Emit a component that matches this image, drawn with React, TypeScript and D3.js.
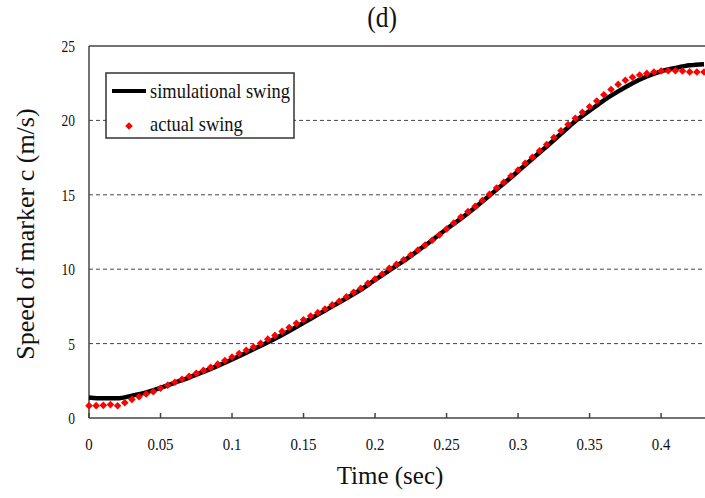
import React, { useEffect, useRef } from "react";
import * as d3 from "d3";

// sampling step of both series (sec)
const STEP_ACTUAL = 0.005;
const STEP_SIM = 0.01;

// actual swing, red markers, one value every 0.005 s from 0 to 0.43
const actualSpeed = [
  0.83, 0.83, 0.85, 0.9, 0.82, 1.03, 1.25, 1.43, 1.61, 1.77,
  2.0, 2.2, 2.4, 2.6, 2.8, 3.0, 3.2, 3.4, 3.62, 3.86,
  4.1, 4.33, 4.55, 4.77, 5.02, 5.3, 5.55, 5.82, 6.08, 6.36,
  6.6, 6.85, 7.08, 7.33, 7.6, 7.84, 8.15, 8.45, 8.71, 9.05,
  9.34, 9.68, 10.06, 10.33, 10.64, 10.95, 11.29, 11.62, 11.95, 12.3,
  12.7, 13.1, 13.5, 13.87, 14.22, 14.62, 15.03, 15.46, 15.84, 16.26,
  16.67, 17.12, 17.52, 17.95, 18.38, 18.85, 19.3, 19.72, 20.14, 20.54,
  20.92, 21.3, 21.72, 22.08, 22.42, 22.7, 22.9, 23.05, 23.16, 23.25,
  23.32, 23.34, 23.34, 23.32, 23.26, 23.25, 23.25,
];

// simulational swing, black line, one value every 0.01 s from 0 to 0.43
const simSpeed = [
  1.38, 1.32, 1.32, 1.5, 1.72, 2.02, 2.38, 2.72, 3.1, 3.5,
  3.93, 4.38, 4.85, 5.33, 5.85, 6.4, 6.95, 7.5, 8.05, 8.62,
  9.28, 9.92, 10.55, 11.25, 11.95, 12.7, 13.4, 14.15, 14.95, 15.75,
  16.58, 17.42, 18.25, 19.1, 19.95, 20.65, 21.35, 21.95, 22.5, 22.95,
  23.3, 23.52, 23.7, 23.78,
];

const xTicks = [0, 0.05, 0.1, 0.15, 0.2, 0.25, 0.3, 0.35, 0.4];
const yTicks = [0, 5, 10, 15, 20, 25];
const gridValues = [5, 10, 15, 20];

const App = () => {
  const svgRef = useRef<SVGSVGElement>(null);

  useEffect(() => {
    const W = 705;
    const H = 498;
    const left = 89;
    const top = 46;
    const bottom = 418;
    const right = 704;
    const font = "'Liberation Serif', 'Times New Roman', serif";

    const svg = d3.select(svgRef.current);
    svg.selectAll("*").remove();
    svg.attr("width", W).attr("height", H);

    svg.append("rect").attr("width", W).attr("height", H).attr("fill", "#fff");

    const x = d3.scaleLinear().domain([0, 0.43]).range([left, right]);
    const y = d3.scaleLinear().domain([0, 25]).range([bottom, top]);

    // dashed gridlines
    svg
      .selectAll(".grid")
      .data(gridValues)
      .enter()
      .append("line")
      .attr("x1", left)
      .attr("x2", W)
      .attr("y1", (d) => y(d))
      .attr("y2", (d) => y(d))
      .attr("stroke", "#444")
      .attr("stroke-width", 1)
      .attr("stroke-dasharray", "4,3");

    // frame: top, left, bottom
    const frame = svg.append("g").attr("stroke", "#444").attr("stroke-width", 1.5);
    frame.append("line").attr("x1", left).attr("x2", W).attr("y1", top).attr("y2", top);
    frame.append("line").attr("x1", left).attr("x2", left).attr("y1", top).attr("y2", bottom);
    frame.append("line").attr("x1", left).attr("x2", W).attr("y1", bottom).attr("y2", bottom);

    // x ticks (pointing inward)
    svg
      .selectAll(".xtick")
      .data(xTicks)
      .enter()
      .append("line")
      .attr("x1", (d) => x(d))
      .attr("x2", (d) => x(d))
      .attr("y1", bottom)
      .attr("y2", bottom - 5)
      .attr("stroke", "#444")
      .attr("stroke-width", 1.5);

    // x tick labels
    svg
      .selectAll(".xlabel")
      .data(xTicks)
      .enter()
      .append("text")
      .attr("transform", (d) => `translate(${x(d)},450) scale(0.85,1)`)
      .attr("text-anchor", "middle")
      .attr("font-family", font)
      .attr("font-size", 17.5)
      .attr("fill", "#111")
      .text((d) => String(d));

    // y tick labels
    svg
      .selectAll(".ylabel")
      .data(yTicks)
      .enter()
      .append("text")
      .attr("transform", (d) => `translate(75,${y(d) + 6}) scale(0.82,1)`)
      .attr("text-anchor", "end")
      .attr("font-family", font)
      .attr("font-size", 16.5)
      .attr("fill", "#111")
      .text((d) => String(d));

    // simulational swing line
    const line = d3
      .line<number>()
      .x((_, i) => x(i * STEP_SIM))
      .y((d) => y(d))
      .curve(d3.curveMonotoneX);

    svg
      .append("path")
      .datum(simSpeed)
      .attr("d", line)
      .attr("fill", "none")
      .attr("stroke", "#000")
      .attr("stroke-width", 4.5);

    // actual swing diamonds
    const diamond = (cx: number, cy: number, r: number) =>
      `M${cx},${cy - r}L${cx + r},${cy}L${cx},${cy + r}L${cx - r},${cy}Z`;

    svg
      .selectAll(".pt")
      .data(actualSpeed)
      .enter()
      .append("path")
      .attr("d", (d, i) => diamond(x(i * STEP_ACTUAL), y(d), 3.8))
      .attr("fill", "#ff0000");

    // legend
    const lg = svg.append("g");
    lg.append("rect")
      .attr("x", 106)
      .attr("y", 73)
      .attr("width", 188)
      .attr("height", 65)
      .attr("fill", "#fff")
      .attr("stroke", "#333")
      .attr("stroke-width", 1.5);
    lg.append("line")
      .attr("x1", 112)
      .attr("x2", 146)
      .attr("y1", 91)
      .attr("y2", 91)
      .attr("stroke", "#000")
      .attr("stroke-width", 4);
    lg.append("text")
      .attr("transform", "translate(150,98) scale(0.88,1)")
      .attr("font-family", font)
      .attr("font-size", 21)
      .attr("fill", "#111")
      .text("simulational swing");
    lg.append("path").attr("d", diamond(129, 126, 3.8)).attr("fill", "#ff0000");
    lg.append("text")
      .attr("transform", "translate(150,131) scale(0.88,1)")
      .attr("font-family", font)
      .attr("font-size", 21)
      .attr("fill", "#111")
      .text("actual swing");

    // title
    svg
      .append("text")
      .attr("transform", "translate(382,27) scale(0.85,1)")
      .attr("text-anchor", "middle")
      .attr("font-family", font)
      .attr("font-size", 30)
      .attr("fill", "#111")
      .text("(d)");

    // axis titles
    svg
      .append("text")
      .attr("x", 390)
      .attr("y", 484)
      .attr("text-anchor", "middle")
      .attr("font-family", font)
      .attr("font-size", 25)
      .attr("fill", "#111")
      .text("Time (sec)");

    svg
      .append("text")
      .attr("transform", "translate(34,234) rotate(-90)")
      .attr("text-anchor", "middle")
      .attr("font-family", font)
      .attr("font-size", 26)
      .attr("fill", "#111")
      .text("Speed of marker c (m/s)");
  }, []);

  return (
    <div>
      <svg ref={svgRef} style={{ position: "absolute", left: 0, top: 0 }}></svg>
    </div>
  );
};

export default App;
